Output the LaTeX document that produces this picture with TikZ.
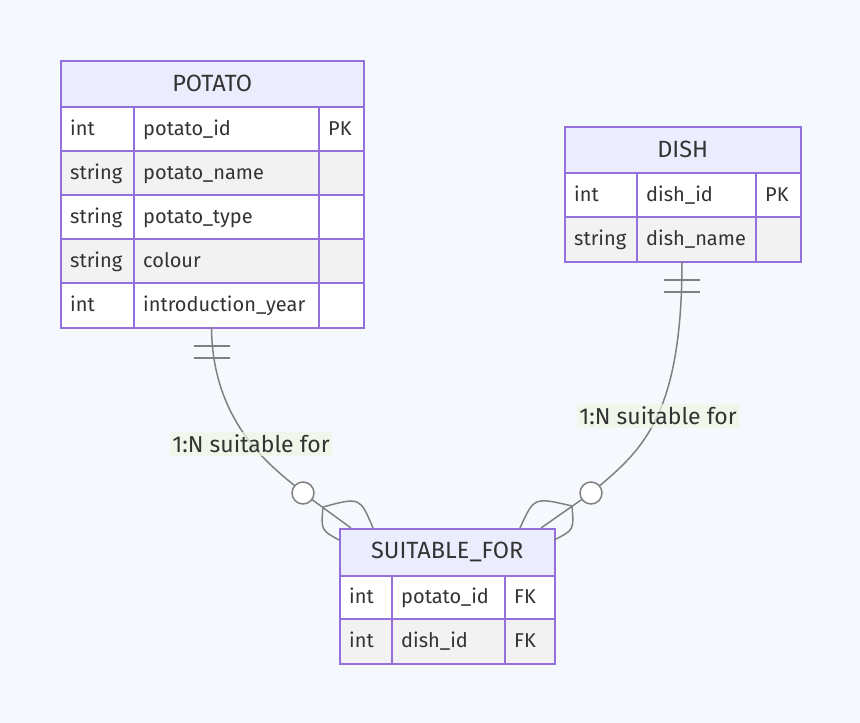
\documentclass[tikz,border=0pt]{standalone}
\usepackage{fontspec}
\setmainfont{Fira Sans}
\definecolor{bg}{HTML}{F5F9FD}
\definecolor{pur}{HTML}{9370DB}
\definecolor{hdr}{HTML}{ECECFF}
\definecolor{rowg}{HTML}{F2F2F2}
\definecolor{edgec}{HTML}{808080}
\definecolor{lbl}{HTML}{EEF6E2}
\definecolor{txt}{HTML}{333333}
\newcommand{\erc}[7]{%
  \node[cellbox,fill=#6,minimum width={#4-#2},minimum height={#5-#3},anchor=north west] (#1) at (#2,#3) {};
  \node[celltext] at ([xshift=10pt,yshift=-6.5pt]#1.west) {\strut#7};}
\newcommand{\erhead}[6]{%
  \node[cellbox,fill=hdr,minimum width={#4-#2},minimum height={#5-#3},anchor=north west,font=\fontsize{23.5}{23.5}\selectfont,text=txt] (#1) at (#2,#3) {#6};}
\begin{document}
\begin{tikzpicture}[x=1pt,y=-1pt,
  cellbox/.style={draw=pur,line width=1.5pt,inner sep=0pt},
  celltext/.style={anchor=base west,inner sep=0pt,font=\fontsize{20}{20}\selectfont,text=txt},
  rel/.style={draw=edgec,line width=1.5pt},
  lab/.style={fill=lbl,fill opacity=0.7,text opacity=1,text=txt,inner xsep=2pt,inner ysep=3pt,font=\fontsize{23}{23}\selectfont}
]
\fill[bg] (0,0) rectangle (860,723);
\useasboundingbox (0,0) rectangle (860,723);

% POTATO
\erhead{potato}{60}{60}{363}{106}{POTATO}
\erc{p1a}{60}{106}{133}{150}{white}{int}
\erc{p1b}{133}{106}{318}{150}{white}{potato\_id}
\erc{p1c}{318}{106}{363}{150}{white}{PK}
\erc{p2a}{60}{150}{133}{194}{rowg}{string}
\erc{p2b}{133}{150}{318}{194}{rowg}{potato\_name}
\erc{p2c}{318}{150}{363}{194}{rowg}{}
\erc{p3a}{60}{194}{133}{238}{white}{string}
\erc{p3b}{133}{194}{318}{238}{white}{potato\_type}
\erc{p3c}{318}{194}{363}{238}{white}{}
\erc{p4a}{60}{238}{133}{282}{rowg}{string}
\erc{p4b}{133}{238}{318}{282}{rowg}{colour}
\erc{p4c}{318}{238}{363}{282}{rowg}{}
\erc{p5a}{60}{282}{133}{327}{white}{int}
\erc{p5b}{133}{282}{318}{327}{white}{introduction\_year}
\erc{p5c}{318}{282}{363}{327}{white}{}

% DISH
\erhead{dish}{564}{126}{800}{172}{DISH}
\erc{d1a}{564}{172}{636}{216}{white}{int}
\erc{d1b}{636}{172}{755}{216}{white}{dish\_id}
\erc{d1c}{755}{172}{800}{216}{white}{PK}
\erc{d2a}{564}{216}{636}{261}{rowg}{string}
\erc{d2b}{636}{216}{755}{261}{rowg}{dish\_name}
\erc{d2c}{755}{216}{800}{261}{rowg}{}

% SUITABLE_FOR
\erhead{sf}{339}{528}{554}{575}{SUITABLE\_FOR}
\erc{s1a}{339}{575}{391}{618}{white}{int}
\erc{s1b}{391}{575}{504}{618}{white}{potato\_id}
\erc{s1c}{504}{575}{554}{618}{white}{FK}
\erc{s2a}{339}{618}{391}{663}{rowg}{int}
\erc{s2b}{391}{618}{504}{663}{rowg}{dish\_id}
\erc{s2c}{504}{618}{554}{663}{rowg}{FK}

% connector points
\coordinate (potbot) at (211.5,327);
\coordinate (dishbot) at (682,261);
\coordinate (c1) at (303,493);
\coordinate (c2) at (591,493);
\coordinate (f1) at (323,507);
\coordinate (f2) at (572,506);
\coordinate (e1) at (351,528);
\coordinate (e2) at (541,528);

% POTATO -> SUITABLE_FOR
\draw[rel] (potbot) .. controls (212,433) and (285.6,475.6) .. (c1) -- (e1);
\draw[rel] (f1) .. controls (360,497) .. (373,528);
\draw[rel] (f1) .. controls (321,530) .. (339,540);
\draw[rel,fill=white] (c1) circle (11);
\draw[rel] (194,346) -- (230,346);
\draw[rel] (194,358) -- (230,358);

% DISH -> SUITABLE_FOR
\draw[rel] (dishbot) .. controls (682,420) and (640,452) .. (c2) -- (e2);
\draw[rel] (f2) .. controls (534,497) .. (520,528);
\draw[rel] (f2) .. controls (574,530) .. (554,540);
\draw[rel,fill=white] (c2) circle (11);
\draw[rel] (664,280) -- (700,280);
\draw[rel] (664,292) -- (700,292);

% labels
\node[lab] (l1) at (251,444) {1:N suitable for};
\node[lab] (l2) at (658,416) {1:N suitable for};
\end{tikzpicture}
\end{document}
